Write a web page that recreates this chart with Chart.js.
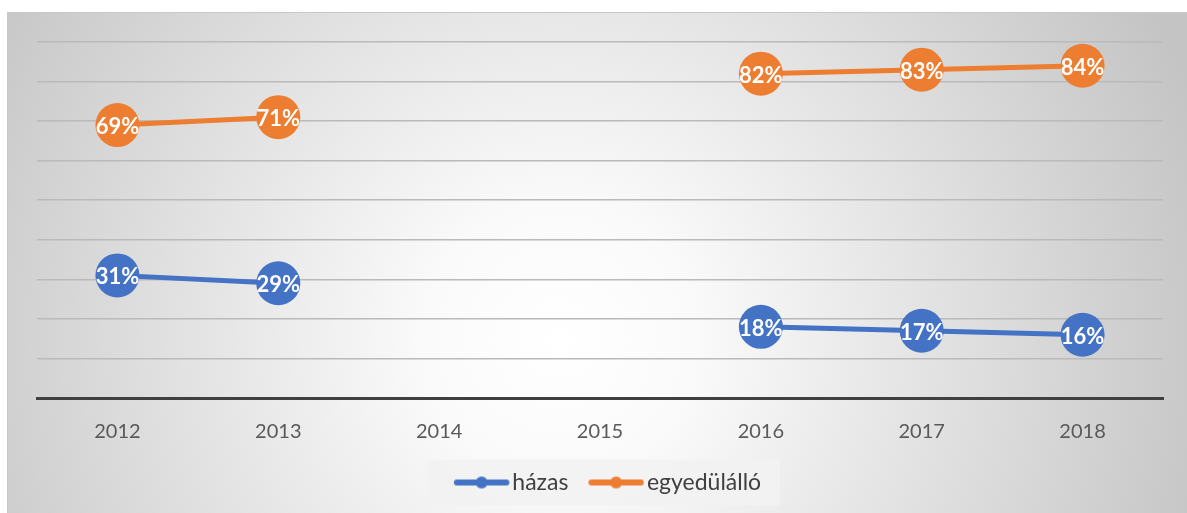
<!DOCTYPE html>
<html lang="hu">
<head>
<meta charset="utf-8">
<title>házas / egyedülálló</title>
<script src="https://cdn.jsdelivr.net/npm/chart.js"></script>
<style>
    html, body {
        margin: 0;
        padding: 0;
        background: #fff;
    }

    #wrap {
        position: relative;
        width: 1187px;
        height: 513px;
    }
</style>
</head>
<body>
<div id="wrap"><canvas id="chart" width="1187" height="513"></canvas></div>

<script>
    // adatok (százalék)
    const years = ['2012', '2013', '2014', '2015', '2016', '2017', '2018'];
    const hazas = [31, 29, null, null, 18, 17, 16];
    const egyedulallo = [69, 71, null, null, 82, 83, 84];
    const seriesNames = ['házas', 'egyedülálló'];
    const seriesColors = ['#4472C4', '#ED7D31'];

    // legend swatch: vonal + pötty (bal oldalon üres hely = térköz az előző elem után)
    function swatch(color) {
        const c = document.createElement('canvas');
        c.width = 80;
        c.height = 14;
        const g = c.getContext('2d');
        g.strokeStyle = color;
        g.lineWidth = 6;
        g.lineCap = 'round';
        g.beginPath();
        g.moveTo(27, 7);
        g.lineTo(76.5, 7);
        g.stroke();
        g.fillStyle = color;
        g.beginPath();
        g.arc(51.75, 7, 6, 0, Math.PI * 2);
        g.fill();
        return c;
    }
    const swatches = seriesColors.map(swatch);

    // háttér: radiális átmenet + legenda doboz
    const backgroundPlugin = {
        id: 'bg',
        beforeDraw(chart) {
            const ctx = chart.ctx;
            const w = chart.width, h = chart.height;
            ctx.save();
            ctx.fillStyle = '#ffffff';
            ctx.fillRect(0, 0, w, h);
            const grad = ctx.createRadialGradient(560, 340, 0, 560, 340, 680);
            grad.addColorStop(0, '#ffffff');
            grad.addColorStop(0.2, '#fafafa');
            grad.addColorStop(1, '#c4c4c4');
            ctx.fillStyle = grad;
            ctx.fillRect(7, 12, w - 7, h - 12);
            ctx.strokeStyle = '#c8c8c8';
            ctx.lineWidth = 1;
            ctx.strokeRect(7.5, 12.5, w, h);

            const boxes = chart.legend && chart.legend.legendHitBoxes;
            if (boxes && boxes.length) {
                const first = boxes[0], last = boxes[boxes.length - 1];
                const cy = first.top + first.height / 2;
                const x0 = first.left - 11;
                const x1 = last.left + last.width + 19;
                ctx.fillStyle = 'rgba(242,242,242,0.9)';
                ctx.fillRect(x0, cy - 23, x1 - x0, 46);
            }
            ctx.restore();
        }
    };

    // címkék a pöttyökön
    const labelPlugin = {
        id: 'pointLabels',
        afterDatasetsDraw(chart) {
            const ctx = chart.ctx;
            ctx.save();
            ctx.font = 'bold 22px Lato, "Open Sans", sans-serif';
            ctx.fillStyle = '#ffffff';
            ctx.textAlign = 'center';
            ctx.textBaseline = 'middle';
            chart.data.datasets.forEach((ds, i) => {
                const meta = chart.getDatasetMeta(i);
                meta.data.forEach((pt, j) => {
                    const v = ds.data[j];
                    if (v === null) return;
                    ctx.fillText(v + '%', pt.x, pt.y + 2);
                });
            });
            ctx.restore();
        }
    };

    new Chart(document.getElementById('chart'), {
        type: 'line',
        data: {
            labels: years,
            datasets: [
                {
                    label: seriesNames[0],
                    data: hazas,
                    borderColor: seriesColors[0],
                    backgroundColor: seriesColors[0],
                    borderWidth: 5,
                    pointRadius: 22,
                    pointHoverRadius: 22,
                    pointBorderWidth: 0,
                    spanGaps: false
                },
                {
                    label: seriesNames[1],
                    data: egyedulallo,
                    borderColor: seriesColors[1],
                    backgroundColor: seriesColors[1],
                    borderWidth: 5,
                    pointRadius: 22,
                    pointHoverRadius: 22,
                    pointBorderWidth: 0,
                    spanGaps: false
                }
            ]
        },
        options: {
            responsive: false,
            animation: false,
            maintainAspectRatio: false,
            devicePixelRatio: 1,
            layout: {
                padding: { left: 37, right: 24, top: 42, bottom: 9 }
            },
            plugins: {
                tooltip: { enabled: false },
                legend: {
                    position: 'bottom',
                    labels: {
                        usePointStyle: true,
                        pointStyleWidth: 62,
                        padding: 5,
                        color: '#404040',
                        font: { family: 'Lato, "Open Sans", sans-serif', size: 23 },
                        generateLabels(chart) {
                            return chart.data.datasets.map((ds, i) => ({
                                text: ds.label,
                                pointStyle: swatches[i],
                                fillStyle: ds.borderColor,
                                strokeStyle: ds.borderColor,
                                lineWidth: 0,
                                hidden: false,
                                datasetIndex: i,
                                fontColor: '#404040'
                            }));
                        }
                    }
                }
            },
            scales: {
                x: {
                    offset: true,
                    grid: { display: false, drawTicks: false },
                    border: { display: true, color: '#404040', width: 3 },
                    ticks: {
                        padding: 22,
                        color: '#595959',
                        font: { family: 'Lato, "Open Sans", sans-serif', size: 20 }
                    }
                },
                y: {
                    display: true,
                    min: 0,
                    max: 90,
                    ticks: { stepSize: 10, display: false },
                    border: { display: false },
                    grid: { color: '#bababa', lineWidth: 1.5, drawTicks: false }
                }
            }
        },
        plugins: [backgroundPlugin, labelPlugin]
    });
</script>
</body>
</html>
